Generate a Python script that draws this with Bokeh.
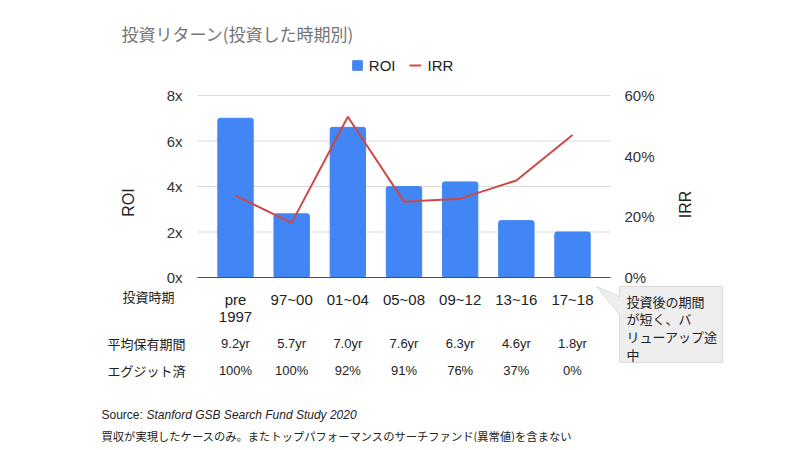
import math
from bokeh.plotting import figure
from bokeh.models import (Range1d, LinearAxis, FixedTicker, PrintfTickFormatter, Legend,
                          LegendItem, Label, LabelSet, ColumnDataSource, PolyAnnotation)
from bokeh.core.properties import value
from bokeh.embed import file_html
from bokeh.resources import INLINE

# ---------------- data ----------------
categories = ["pre\n1997", "97~00", "01~04", "05~08", "09~12", "13~16", "17~18"]
roi = [7.0, 2.8, 6.6, 4.0, 4.2, 2.5, 2.0]
irr = [27, 18, 53, 25, 26, 32, 47]
avg_hold_years = [9.2, 5.7, 7.0, 7.6, 6.3, 4.6, 1.8]
exited_pct = [100, 100, 92, 91, 76, 37, 0]
roi_ticks = [0, 2, 4, 6, 8]
irr_ticks = [0, 20, 40, 60]

title_text = "投資リターン(投資した時期別)"
row_labels = ["投資時期", "平均保有期間", "エグジット済"]
callout_text = "投資後の期間\nが短く、バ\nリューアップ途\n中"
source_prefix = "Source: "
source_title = "Stanford GSB Search Fund Study 2020"
note_text = "買収が実現したケースのみ。またトップパフォーマンスのサーチファンド(異常値)を含まない"

# ---------------- layout (pixels) ----------------
W, H = 784, 442
PLOT_L, PLOT_R = 197, 610          # plotting area edges
BASE_Y = 277                        # 0x / 0% baseline
CAT0_X, CAT_STEP = 235.0, 337.0 / 6  # first category centre, spacing
ROI_PX = 22.75                      # px per 1x of ROI
IRR_PX = ROI_PX * 8 / 60            # px per 1% of IRR

CJK = "Noto Sans CJK JP"
LAT = "Liberation Sans"
TXT = "#222222"


def dx(px):
    return (px - CAT0_X) / CAT_STEP


def dy(py):
    return (BASE_Y - py) / ROI_PX


XL, XR = dx(PLOT_L), dx(PLOT_R)

p = figure(width=W, height=H, output_backend="svg", toolbar_location=None, title=None,
           x_range=Range1d(dx(0), dx(W)), y_range=Range1d(dy(H), dy(0)),
           min_border=0, min_border_left=0, min_border_right=0,
           min_border_top=0, min_border_bottom=0)
p.outline_line_color = None
p.background_fill_color = "white"
p.border_fill_color = "white"
p.extra_y_ranges = {"irr": Range1d((BASE_Y - H) / IRR_PX, BASE_Y / IRR_PX)}
p.xgrid.grid_line_color = None
p.ygrid.grid_line_color = None

xs = list(range(len(categories)))

# horizontal gridlines limited to the plotting area
p.segment(x0=[XL] * len(roi_ticks), x1=[XR] * len(roi_ticks), y0=roi_ticks, y1=roi_ticks,
          line_color="#d9d9d9", line_width=1)

src = ColumnDataSource(dict(x=xs, roi=roi, irr=irr))
bars = p.vbar(x="x", top="roi", width=0.63, source=src, color="#4285f4")
if "border_radius" in type(bars.glyph).properties():
    bars.glyph.border_radius = 2
line = p.line(x="x", y="irr", source=src, y_range_name="irr",
              line_color="#cc4a46", line_width=2)

# axes (fixed at the plotting-area edges)
p.xaxis.fixed_location = 0
p.xaxis.bounds = (XL, XR)
p.xaxis.ticker = FixedTicker(ticks=xs)
p.xaxis.major_label_overrides = {i: c for i, c in enumerate(categories)}
p.xaxis.major_tick_line_color = None
p.xaxis.minor_tick_line_color = None
p.xaxis.axis_line_color = "#4d4d4d"
p.xaxis.major_label_standoff = 7
p.xaxis.major_label_text_font = LAT
p.xaxis.major_label_text_font_size = "15px"
p.xaxis.major_label_text_line_height = 1.0
p.xaxis.major_label_text_color = TXT

p.yaxis.fixed_location = XL
p.yaxis.bounds = (0, 8)
p.yaxis.ticker = FixedTicker(ticks=roi_ticks)
p.yaxis.formatter = PrintfTickFormatter(format="%dx")
p.yaxis.axis_line_color = None
p.yaxis.major_tick_line_color = None
p.yaxis.minor_tick_line_color = None
p.yaxis.major_label_standoff = 9
p.yaxis.major_label_text_font = LAT
p.yaxis.major_label_text_font_size = "15px"
p.yaxis.major_label_text_color = "#333333"

right = LinearAxis(y_range_name="irr", fixed_location=XR, bounds=(0, 60),
                   ticker=FixedTicker(ticks=irr_ticks),
                   formatter=PrintfTickFormatter(format="%d%%"),
                   axis_line_color=None, major_tick_line_color=None,
                   minor_tick_line_color=None, major_label_standoff=8,
                   major_label_text_font=LAT, major_label_text_font_size="15px",
                   major_label_text_color="#333333")
p.add_layout(right, "right")

# legend
legend = Legend(items=[LegendItem(label="ROI", renderers=[bars]),
                       LegendItem(label="IRR", renderers=[line])],
                orientation="horizontal", location=(350.8, H - 73.5),
                padding=0, margin=0, spacing=14, glyph_width=12, glyph_height=12,
                label_standoff=6, label_text_font=LAT, label_text_font_size="15px",
                label_text_color=TXT, background_fill_alpha=0, border_line_color=None)
p.add_layout(legend)

# title
p.add_layout(Label(x=dx(121), y=dy(33), text=title_text, text_font=CJK,
                   text_font_size="17px", text_color="#757575",
                   text_align="left", text_baseline="middle"))

# axis titles
p.add_layout(Label(x=dx(128), y=dy(202), text="ROI", angle=math.pi / 2,
                   text_font=LAT, text_font_size="16px", text_color=TXT,
                   text_align="center", text_baseline="middle"))
p.add_layout(Label(x=dx(685), y=dy(204), text="IRR", angle=math.pi / 2,
                   text_font=LAT, text_font_size="16px", text_color=TXT,
                   text_align="center", text_baseline="middle"))

# row labels
p.add_layout(Label(x=dx(148), y=dy(296), text=row_labels[0], text_font=CJK,
                   text_font_size="13px", text_color=TXT,
                   text_align="center", text_baseline="middle"))
p.add_layout(Label(x=dx(185), y=dy(343), text=row_labels[1], text_font=CJK,
                   text_font_size="13px", text_color=TXT,
                   text_align="right", text_baseline="middle"))
p.add_layout(Label(x=dx(185), y=dy(370), text=row_labels[2], text_font=CJK,
                   text_font_size="13px", text_color=TXT,
                   text_align="right", text_baseline="middle"))

# row values
hold_src = ColumnDataSource(dict(x=xs, y=[dy(343)] * len(xs),
                                 t=[f"{v:.1f}yr" for v in avg_hold_years]))
exit_src = ColumnDataSource(dict(x=xs, y=[dy(370)] * len(xs),
                                 t=[f"{v}%" for v in exited_pct]))
for s in (hold_src, exit_src):
    p.add_layout(LabelSet(x="x", y="y", text="t", source=s, text_font=value(LAT),
                          text_font_size=value("13px"), text_color=TXT,
                          text_align="center", text_baseline="middle"))

# callout
bx0, bx1, by0, by1 = 619, 722, 286, 362
p.add_layout(PolyAnnotation(
    xs=[dx(bx0), dx(bx1), dx(bx1), dx(bx0), dx(bx0), dx(596), dx(bx0)],
    ys=[dy(by0), dy(by0), dy(by1), dy(by1), dy(314), dy(286), dy(296)],
    fill_color="#eeeeee", fill_alpha=1, line_color="#9a9a9a", line_width=1))
p.add_layout(Label(x=dx(626), y=dy(291), text=callout_text, text_font=CJK,
                   text_font_size="13px", text_color=TXT, text_line_height=0.93,
                   text_align="left", text_baseline="top"))

# source + note
p.add_layout(Label(x=dx(101), y=dy(414), text=source_prefix, text_font=LAT,
                   text_font_size="12px", text_color=TXT,
                   text_align="left", text_baseline="middle"))
p.add_layout(Label(x=dx(146), y=dy(414), text=source_title, text_font=LAT,
                   text_font_style="italic", text_font_size="12px", text_color=TXT,
                   text_align="left", text_baseline="middle"))
p.add_layout(Label(x=dx(101), y=dy(435), text=note_text, text_font=CJK,
                   text_font_size="11.3px", text_color=TXT,
                   text_align="left", text_baseline="middle"))

open("out.html", "w").write(file_html(p, INLINE))
